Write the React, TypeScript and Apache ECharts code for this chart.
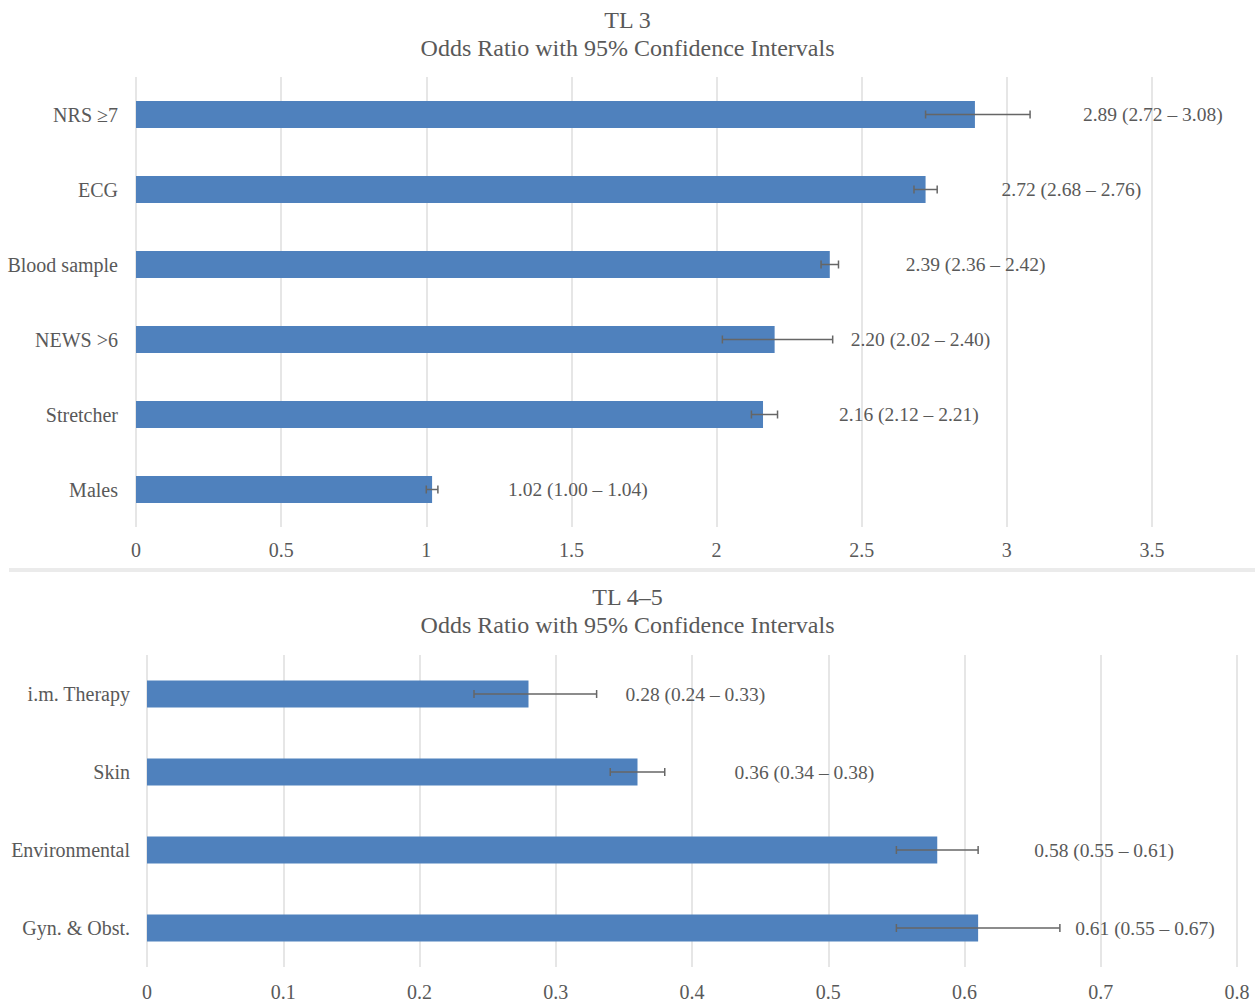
import React, { useEffect, useRef } from "react";
import * as echarts from "echarts";

// ---- Data: TL 3 ----
const topTitle = "TL 3\nOdds Ratio with 95% Confidence Intervals";
const topCategories = ["NRS ≥7", "ECG", "Blood sample", "NEWS >6", "Stretcher", "Males"];
const topOdds = [2.89, 2.72, 2.39, 2.2, 2.16, 1.02];
const topLow = [2.72, 2.68, 2.36, 2.02, 2.12, 1.0];
const topHigh = [3.08, 2.76, 2.42, 2.4, 2.21, 1.04];
const topAxisMin = 0;
const topAxisMax = 3.5;
const topAxisStep = 0.5;

// ---- Data: TL 4-5 ----
const bottomTitle = "TL 4–5\nOdds Ratio with 95% Confidence Intervals";
const bottomCategories = ["i.m. Therapy", "Skin", "Environmental", "Gyn. & Obst."];
const bottomOdds = [0.28, 0.36, 0.58, 0.61];
const bottomLow = [0.24, 0.34, 0.55, 0.55];
const bottomHigh = [0.33, 0.38, 0.61, 0.67];
const bottomAxisMin = 0;
const bottomAxisMax = 0.8;
const bottomAxisStep = 0.1;

const FONT = "'Liberation Serif', 'Times New Roman', serif";
const TEXT = "#595959";
const BAR = "#4f81bd";
const GRIDLINE = "#dedede";
const ERR = "#666666";

function fmtLabel(v: number, lo: number, hi: number) {
  return `${v.toFixed(2)} (${lo.toFixed(2)} – ${hi.toFixed(2)})`;
}

function errorSeries(low: number[], high: number[], axisIndex: number) {
  return {
    type: "custom",
    xAxisIndex: axisIndex,
    yAxisIndex: axisIndex,
    silent: true,
    z: 5,
    encode: { x: [0, 1], y: 2 },
    data: low.map((lo, i) => [lo, high[i], i]),
    renderItem: (params: any, api: any) => {
      const idx = api.value(2);
      const p1 = api.coord([api.value(0), idx]);
      const p2 = api.coord([api.value(1), idx]);
      const cap = 4;
      const style = { stroke: ERR, lineWidth: 1.5 };
      return {
        type: "group",
        children: [
          { type: "line", shape: { x1: p1[0], y1: p1[1], x2: p2[0], y2: p2[1] }, style },
          { type: "line", shape: { x1: p1[0], y1: p1[1] - cap, x2: p1[0], y2: p1[1] + cap }, style },
          { type: "line", shape: { x1: p2[0], y1: p2[1] - cap, x2: p2[0], y2: p2[1] + cap }, style },
        ],
      };
    },
  };
}

export default function App() {
  const ref = useRef<HTMLDivElement>(null);

  useEffect(() => {
    if (!ref.current) return;
    const chart = echarts.init(ref.current, undefined, { renderer: "svg" });

    const xAxisCommon = {
      type: "value",
      axisLine: { show: false },
      axisTick: { show: false },
      splitLine: { show: true, lineStyle: { color: GRIDLINE, width: 1.5 } },
      axisLabel: { color: TEXT, fontFamily: FONT, fontSize: 20 },
    };
    const yAxisCommon = {
      type: "category",
      inverse: true,
      axisLine: { show: false },
      axisTick: { show: false },
      splitLine: { show: false },
    };
    const titleStyle = { color: TEXT, fontFamily: FONT, fontSize: 24, fontWeight: "normal", lineHeight: 28 };

    const option: any = {
      animation: false,
      backgroundColor: "#ffffff",
      title: [
        { text: topTitle, left: "center", top: 1, textStyle: titleStyle },
        { text: bottomTitle, left: "center", top: 578, textStyle: titleStyle },
      ],
      grid: [
        { left: 136, right: 103, top: 77, height: 450 },
        { left: 147, right: 18, top: 655, height: 312 },
      ],
      xAxis: [
        {
          ...xAxisCommon,
          gridIndex: 0,
          min: topAxisMin,
          max: topAxisMax,
          interval: topAxisStep,
          axisLabel: { ...xAxisCommon.axisLabel, margin: 13 },
        },
        {
          ...xAxisCommon,
          gridIndex: 1,
          min: bottomAxisMin,
          max: bottomAxisMax,
          interval: bottomAxisStep,
          axisLabel: { ...xAxisCommon.axisLabel, margin: 15 },
        },
      ],
      yAxis: [
        {
          ...yAxisCommon,
          gridIndex: 0,
          data: topCategories,
          axisLabel: { color: TEXT, fontFamily: FONT, fontSize: 20, margin: 18 },
        },
        {
          ...yAxisCommon,
          gridIndex: 1,
          data: bottomCategories,
          axisLabel: { color: TEXT, fontFamily: FONT, fontSize: 20, margin: 17 },
        },
      ],
      graphic: [
        {
          type: "rect",
          shape: { x: 9, y: 568, width: 1246, height: 4 },
          style: { fill: "#ebebeb" },
          silent: true,
        },
      ],
      series: [
        {
          type: "bar",
          xAxisIndex: 0,
          yAxisIndex: 0,
          barWidth: 27,
          itemStyle: { color: BAR },
          data: topOdds.map((v, i) => ({
            value: v,
            label: { distance: i === 0 ? 108 : 76 },
          })),
          label: {
            show: true,
            position: "right",
            color: TEXT,
            fontFamily: FONT,
            fontSize: 19.5,
            formatter: (p: any) => fmtLabel(topOdds[p.dataIndex], topLow[p.dataIndex], topHigh[p.dataIndex]),
          },
        },
        errorSeries(topLow, topHigh, 0),
        {
          type: "bar",
          xAxisIndex: 1,
          yAxisIndex: 1,
          barWidth: 27,
          itemStyle: { color: BAR },
          data: bottomOdds,
          label: {
            show: true,
            position: "right",
            distance: 97,
            color: TEXT,
            fontFamily: FONT,
            fontSize: 19.5,
            formatter: (p: any) =>
              fmtLabel(bottomOdds[p.dataIndex], bottomLow[p.dataIndex], bottomHigh[p.dataIndex]),
          },
        },
        errorSeries(bottomLow, bottomHigh, 1),
      ],
    };

    chart.setOption(option);
    return () => chart.dispose();
  }, []);

  return (
    <div
      ref={ref}
      style={{ position: "absolute", left: 0, top: 0, width: 1255, height: 1005 }}
    />
  );
}
